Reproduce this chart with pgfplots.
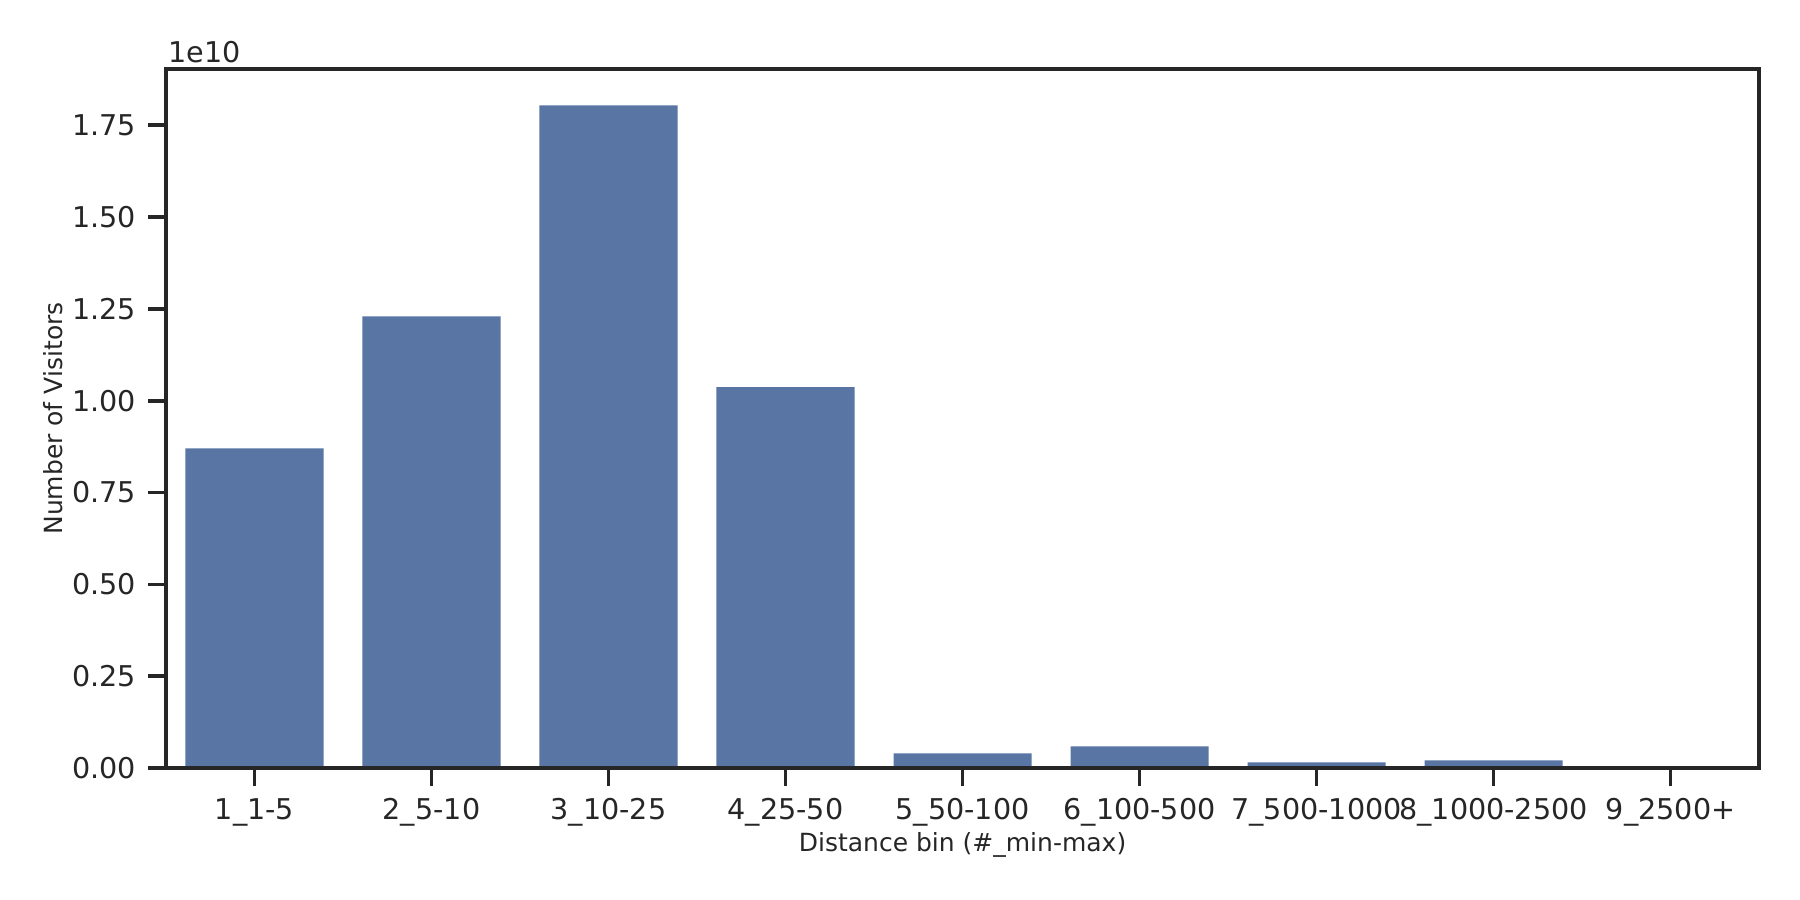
\documentclass[border=0pt]{standalone}
\usepackage{pgfplots}
\pgfplotsset{compat=1.18}
\usepackage{fontspec}
\setmainfont{DejaVu Sans}

\definecolor{bardeep}{HTML}{5875A4}
\definecolor{inkgray}{HTML}{262626}

\pgfplotsset{
    every axis/.append style={line width=1.3pt},
    every tick/.append style={line width=1.3pt, inkgray},
}

\begin{document}
\begin{tikzpicture}
% page = 1800 x 900 px, 1 px = 0.36pt
\useasboundingbox (-59.76pt,-47.52pt) rectangle (588.24pt,276.48pt);
\begin{axis}[
    at={(0,0)}, anchor=south west,
    scale only axis,
    width=573.5pt, height=251.6pt,
    xmin=-0.5, xmax=8.5,
    ymin=0, ymax=1.903,
    axis line style={draw=inkgray, line width=1.3pt},
    tick align=outside,
    major tick length=6.4pt,
    xtick pos=bottom, ytick pos=left,
    xtick={0,1,2,3,4,5,6,7,8},
    xticklabels={1\_1-5,2\_5-10,3\_10-25,4\_25-50,5\_50-100,6\_100-500,7\_500-1000,8\_1000-2500,9\_2500+},
    ytick={0,0.25,0.5,0.75,1,1.25,1.5,1.75},
    /pgf/number format/fixed,
    /pgf/number format/fixed zerofill,
    /pgf/number format/precision=2,
    /pgf/number format/assume math mode=true,
    ticklabel style={font=\fontsize{10.3}{12}\selectfont, text=inkgray},
    xticklabel style={yshift=-0.6pt},
    yticklabel style={xshift=-0.4pt},
    xlabel={Distance bin (\#\_min-max)},
    ylabel={Number of Visitors},
    label style={font=\fontsize{9.0}{10.5}\selectfont, text=inkgray},
    xlabel style={at={(axis description cs:0.5,-0.1101)}, anchor=center},
    ylabel style={at={(axis description cs:-0.0710,0.5)}, anchor=center},
    ybar, bar width=0.78, bar shift=0pt,
    axis on top,
]
\addplot[fill=bardeep, draw=none] coordinates {
    (0,0.870)
    (1,1.230)
    (2,1.804)
    (3,1.037)
    (4,0.040)
    (5,0.059)
    (6,0.015)
    (7,0.021)
    (8,0.001)
};
\end{axis}
\node[anchor=base west, inner sep=0pt, text=inkgray, font=\fontsize{10.3}{12}\selectfont] at (0.7pt,253.8pt) {1e10};
\end{tikzpicture}
\end{document}
